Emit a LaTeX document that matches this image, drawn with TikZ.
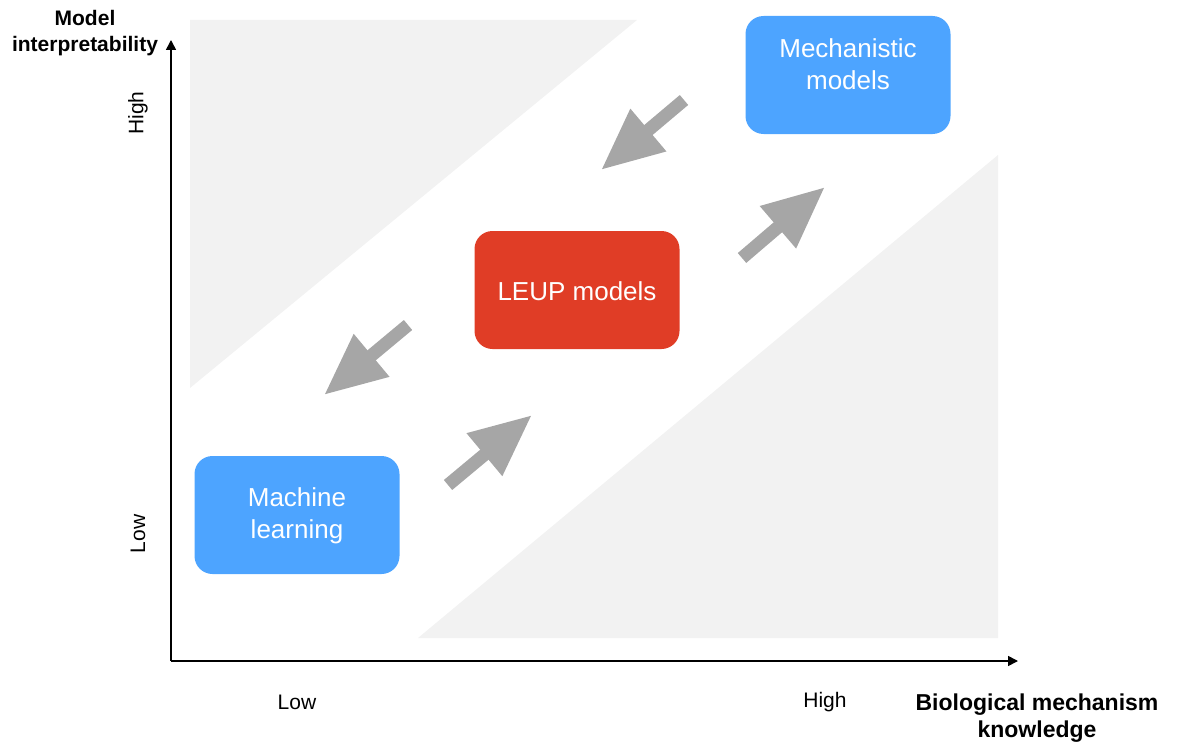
\documentclass[tikz,border=0pt]{standalone}
\usepackage{fontspec}
\setmainfont{Liberation Sans}
\usetikzlibrary{arrows.meta}
\definecolor{boxblue}{RGB}{77,164,255}
\definecolor{boxred}{RGB}{224,61,38}
\definecolor{arrowgrey}{RGB}{166,166,166}
\definecolor{zonegrey}{RGB}{242,242,242}
\begin{document}
\begin{tikzpicture}[x=1pt,y=-1pt,
  modelbox/.style={rounded corners=18pt, minimum width=205pt, minimum height=118pt,
    inner sep=0pt},
  boxtext/.style={text=white, align=center, font=\fontsize{26}{32}\selectfont, inner sep=0pt},
  fatarrow/.style={draw=arrowgrey, line width=13pt, line cap=butt,
    -{Triangle[length=62pt 0 0, width=52pt 0 0, fill=arrowgrey]}},
  axis/.style={line width=1.6pt, -{Triangle[length=10pt 0 0, width=10pt 0 0]}},
  axislabel/.style={font=\bfseries\fontsize{21}{26}\selectfont, align=center},
  ticklabel/.style={font=\fontsize{21}{25}\selectfont}]
\useasboundingbox (0,0) rectangle (1178,752);

% shaded zones
\fill[zonegrey] (190,20) -- (637,20) -- (190,388) -- cycle;
\fill[zonegrey] (998,155) -- (998,638) -- (418,638) -- cycle;

% axes
\coordinate (origin) at (171,661);
\coordinate (ytop) at (171,40);
\coordinate (xend) at (1018,661);
\draw[axis] (origin) -- (ytop);
\draw[axis] (origin) -- (xend);

% axis labels
\node[axislabel] (ylab) at (85,33) {Model\\interpretability};
\node[axislabel, font=\bfseries\fontsize{23}{27}\selectfont] (xlab) at (1037,718) {Biological mechanism\\knowledge};
\node[ticklabel, rotate=90] (yhigh) at (138,113) {High};
\node[ticklabel, rotate=90] (ylow) at (138,534) {Low};
\node[ticklabel] (xlow) at (297,702) {Low};
\node[ticklabel] (xhigh) at (825,702) {High};

% model boxes
\node[modelbox, fill=boxblue] (mech) at (848,75) {};
\node[boxtext] (mechtext) at (848,64) {Mechanistic\\models};
\node[modelbox, fill=boxred] (leup) at (577,290) {};
\node[boxtext] (leuptext) at (577,291) {LEUP models};
\node[modelbox, fill=boxblue] (ml) at (297,515) {};
\node[boxtext] (mltext) at (297,516) {Machine\\learning};

% transition arrows
\coordinate (a1s) at (684,100);  \coordinate (a1e) at (601,170);
\coordinate (a2s) at (742,258);  \coordinate (a2e) at (825,187);
\coordinate (a3s) at (408,325);  \coordinate (a3e) at (324,395);
\coordinate (a4s) at (448,485);  \coordinate (a4e) at (532,415);
\draw[fatarrow] (a1s) -- (a1e);
\draw[fatarrow] (a2s) -- (a2e);
\draw[fatarrow] (a3s) -- (a3e);
\draw[fatarrow] (a4s) -- (a4e);
\end{tikzpicture}
\end{document}
